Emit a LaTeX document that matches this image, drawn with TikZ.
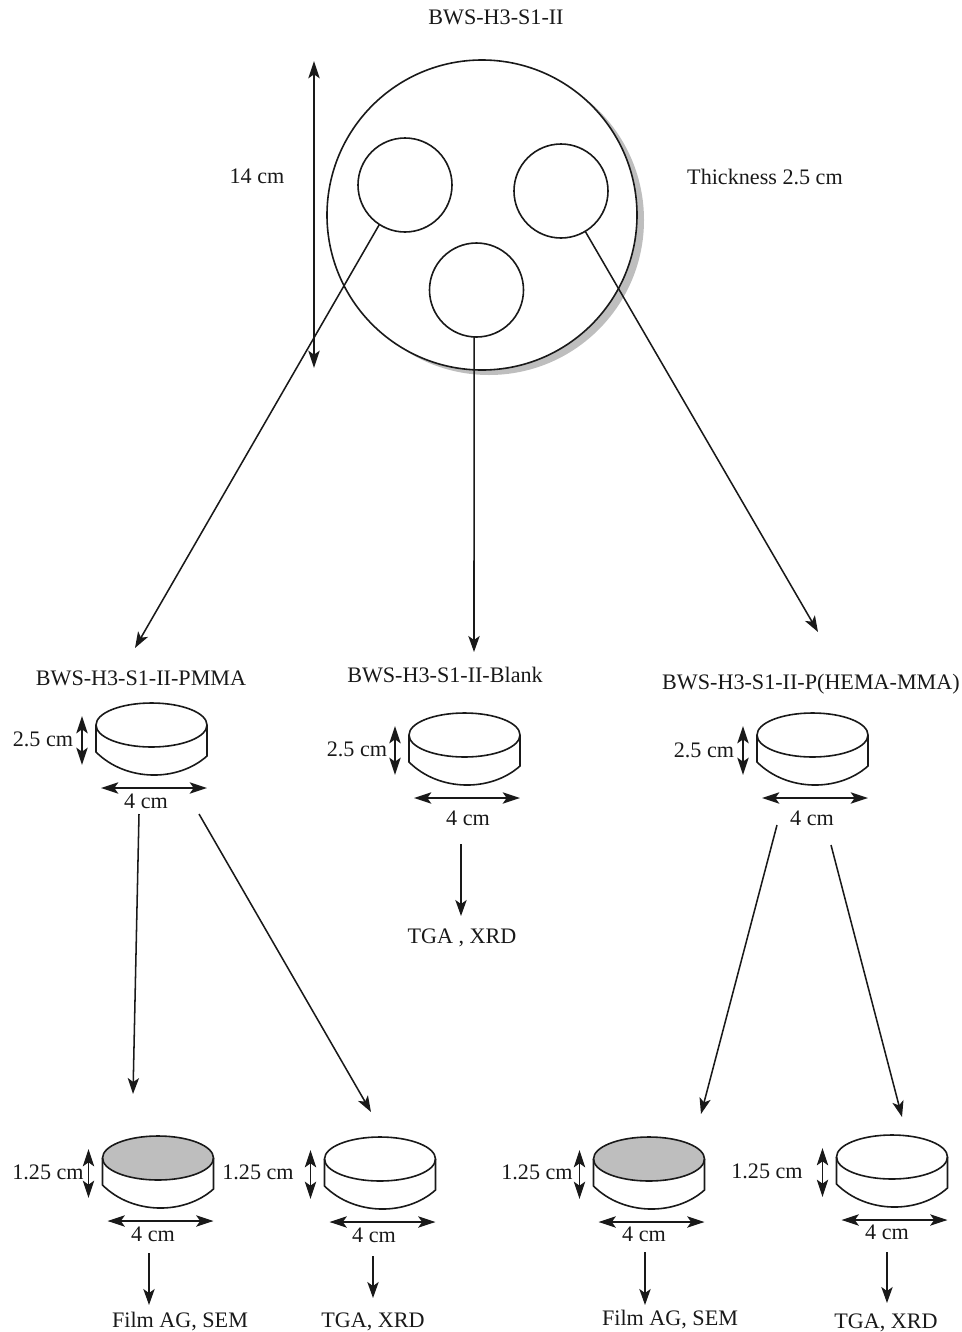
\documentclass[tikz,border=0pt]{standalone}
\usepackage{xcolor}
\usepackage{fontspec}
\setmainfont{Liberation Serif}
\usepackage{tikz}
\usetikzlibrary{arrows.meta, positioning, shapes.geometric}
\definecolor{shadegray}{RGB}{190,190,190}
\definecolor{inkblack}{RGB}{25,25,25}

% side wall and the two size arrows of one disc
\newcommand{\discparts}[1]{
    \draw[discline] (#1.west) -- ++(0,27) .. controls +(30,30) and +(-29,26) .. ++(111,4) -- (#1.east);
    \draw[arrow2] ([shift={(-14,-9)}]#1.west) -- ([shift={(-14,40)}]#1.west);
    \draw[arrow2] ([shift={(5,63)}]#1.west) -- ([shift={(0,63)}]#1.east);
}

\begin{document}
\begin{tikzpicture}[
    x=0.75pt, y=-0.75pt,
    discline/.style={line width=1.2pt, draw=inkblack},
    disctop/.style={ellipse, draw=inkblack, line width=1.2pt, fill=white, minimum width=83.25pt, minimum height=33pt, inner sep=0pt, outer sep=0pt},
    graytop/.style={disctop, fill=shadegray},
    wholedisc/.style={circle, draw=inkblack, line width=1.2pt, fill=white, minimum size=232.5pt, inner sep=0pt, outer sep=0pt},
    shadowdisc/.style={circle, fill=shadegray, minimum size=232.5pt, inner sep=0pt, outer sep=0pt},
    piece/.style={circle, draw=inkblack, line width=1.2pt, fill=white, minimum size=70.5pt, inner sep=0pt, outer sep=0pt},
    label/.style={inner sep=0pt, text depth=0pt, text=inkblack, font=\fontsize{16.6}{18}\selectfont},
    arrow/.style={-{Stealth[length=12pt, width=8.5pt, inset=3pt]}, line width=1.15pt, draw=inkblack},
    arrow2/.style={{Stealth[length=13pt, width=8.5pt, inset=3pt]}-{Stealth[length=13pt, width=8.5pt, inset=3pt]}, line width=1.15pt, draw=inkblack}
]
\useasboundingbox (0,0) rectangle (962,1332);

% top disc
\node[shadowdisc] (shadow) at (489,220) {};
\node[wholedisc] (whole) at (482,215) {};
\node[piece] (pieceA) at (405,185) {};
\node[piece] (pieceB) at (561,191) {};
\node[piece] (pieceC) at (476.5,290) {};

\node[label] (title) at (496,17) {BWS-H3-S1-II};
\node[label] (dia) at (257,176) {14 cm};
\node[label] (thick) at (765,177) {Thickness 2.5 cm};
\coordinate (diatop) at (314,61);
\coordinate (diabot) at (314,368);
\draw[arrow2] (diatop) -- (diabot);

% sample names
\node[label] (pmma) at (141,678) {BWS-H3-S1-II-PMMA};
\node[label] (blank) at (445,675) {BWS-H3-S1-II-Blank};
\node[label] (hema) at (811,682) {BWS-H3-S1-II-P(HEMA-MMA)};

% second row
\node[disctop] (discP) at (151.5,725) {};
\node[disctop] (discB) at (464.5,735) {};
\node[disctop] (discH) at (812.5,735) {};
\discparts{discP}
\discparts{discB}
\discparts{discH}

\node[label] (thickP) at (43,739) {2.5 cm};
\node[label] (thickB) at (357,749) {2.5 cm};
\node[label] (thickH) at (704,750) {2.5 cm};
\node[label] (widthP) at (146,801) {4 cm};
\node[label] (widthB) at (468,818) {4 cm};
\node[label] (widthH) at (812,818) {4 cm};

% third row
\node[graytop] (discP1) at (158,1158) {};
\node[disctop] (discP2) at (380,1159) {};
\node[graytop] (discH1) at (649,1159) {};
\node[disctop] (discH2) at (892,1157) {};
\discparts{discP1}
\discparts{discP2}
\discparts{discH1}
\discparts{discH2}

\node[label] (thickP1) at (48,1172) {1.25 cm};
\node[label] (thickP2) at (258,1172) {1.25 cm};
\node[label] (thickH1) at (537,1172) {1.25 cm};
\node[label] (thickH2) at (767,1171) {1.25 cm};
\node[label] (widthP1) at (153,1234) {4 cm};
\node[label] (widthP2) at (374,1235) {4 cm};
\node[label] (widthH1) at (644,1234) {4 cm};
\node[label] (widthH2) at (887,1232) {4 cm};

% results
\node[label] (tgaB) at (462,936) {TGA , XRD};
\node[label] (filmP) at (180,1320) {Film AG, SEM};
\node[label] (tgaP) at (373,1320) {TGA, XRD};
\node[label] (filmH) at (670,1318) {Film AG, SEM};
\node[label] (tgaH) at (886,1321) {TGA, XRD};

% free arrow ends
\coordinate (tipP) at (135,648);
\coordinate (tipB) at (474,652);
\coordinate (tipH) at (818,632);
\coordinate (startP1) at (139,814);
\coordinate (tipP1) at (133,1094);
\coordinate (startP2) at (199,814);
\coordinate (tipP2) at (371,1112);
\coordinate (startB) at (461,844);
\coordinate (tipB2) at (461,916);
\coordinate (startH1) at (777,825);
\coordinate (tipH1) at (701,1114);
\coordinate (startH2) at (831,845);
\coordinate (tipH2) at (902,1117);
\coordinate (startF1) at (149,1253);
\coordinate (tipF1) at (149,1305);
\coordinate (startT1) at (373,1256);
\coordinate (tipT1) at (373,1298);
\coordinate (startF2) at (645,1252);
\coordinate (tipF2) at (645,1305);
\coordinate (startT2) at (887,1252);
\coordinate (tipT2) at (887,1303);

\draw[arrow] (pieceA.237) -- (tipP);
\draw[arrow] (pieceC.267) -- (tipB);
\draw[arrow] (pieceB.301) -- (tipH);
\draw[arrow] (startP1) -- (tipP1);
\draw[arrow] (startP2) -- (tipP2);
\draw[arrow] (startB) -- (tipB2);
\draw[arrow] (startH1) -- (tipH1);
\draw[arrow] (startH2) -- (tipH2);
\draw[arrow] (startF1) -- (tipF1);
\draw[arrow] (startT1) -- (tipT1);
\draw[arrow] (startF2) -- (tipF2);
\draw[arrow] (startT2) -- (tipT2);

\end{tikzpicture}
\end{document}
